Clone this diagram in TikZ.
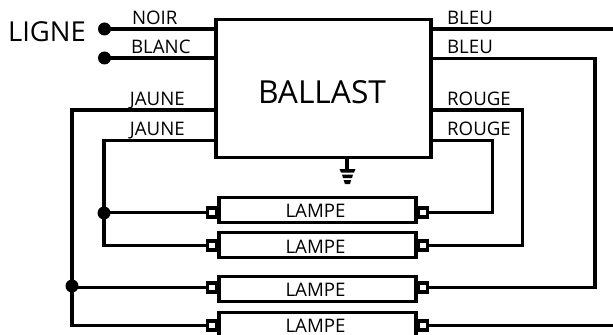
\documentclass[tikz,border=0pt]{standalone}
\usepackage{fontspec}
\setmainfont{Open Sans}
\tikzset{
  x=0.75pt,y=-0.75pt,
  wire/.style={line width=2.3pt,line cap=butt,line join=miter},
  boxline/.style={draw,line width=2.3pt,fill=white,inner sep=0pt},
  lampbox/.style={boxline,minimum width=147.75pt,minimum height=18.75pt},
  capbox/.style={draw,line width=2.3pt,fill=white,minimum width=6.75pt,minimum height=6.75pt,inner sep=0pt},
  dotnode/.style={circle,fill=black,minimum size=9.75pt,inner sep=0pt},
  lab/.style={font=\fontsize{14pt}{16pt}\selectfont,inner sep=0pt,anchor=base},
}
\begin{document}
\begin{tikzpicture}
\useasboundingbox (0,0) rectangle (613,335);
\clip (0,0) rectangle (613,335);
% ballast
\node[boxline,minimum width=161.25pt,minimum height=103.5pt] (ballast) at (323.5,88.5) {};
\node[font=\fontsize{23.8pt}{26pt}\selectfont,inner sep=0pt,anchor=base] (ballasttext) at (322,103) {BALLAST};
% lamps
\node[lampbox] (l1) at (317.5,210.2) {};
\node[lampbox] (l2) at (317.5,245.2) {};
\node[lampbox] (l3) at (317.5,289.2) {};
\node[lampbox] (l4) at (317.5,325.2) {};
\node[lab] (lt1) at (315.5,217.5) {LAMPE};
\node[lab] (lt2) at (315.5,253) {LAMPE};
\node[lab] (lt3) at (315.5,296.5) {LAMPE};
\node[lab] (lt4) at (315.5,332) {LAMPE};
% caps
\foreach \n/\y in {1/212.5,2/245.5,3/287.5,4/325.5}{
  \node[capbox] (cl\n) at (212,\y) {};
  \node[capbox] (cr\n) at (423,\y) {};
}
% junctions and free ends
\node[dotnode] (ln) at (104.5,29) {};
\node[dotnode] (lb) at (104.5,58) {};
\node[dotnode] (jy) at (104,213) {};
\node[dotnode] (jx) at (72,286) {};
\coordinate (endtop) at (613,29);
\coordinate (endb) at (613,325.5);
\coordinate (g) at (347,169);
% wires
\draw[wire] (ln.center) -- (ln.center -| ballast.west);
\draw[wire] (lb.center) -- (lb.center -| ballast.west);
\draw[wire] (216,110) -| (jx.center) |- (cl4.west);
\draw[wire] (jx.center |- cl3.west) -- (cl3.west);
\draw[wire] (216,140.5) -| (jy.center) |- (cl2.west);
\draw[wire] (jy.center |- cl1.west) -- (cl1.west);
\draw[wire] (431,29) -- (endtop);
\draw[wire] (431,58.5) -| (595,287.5) -- (cr3.east);
\draw[wire] (431,110) -| (522.5,245.5) -- (cr2.east);
\draw[wire] (431,140.5) -| (492.5,212.5) -- (cr1.east);
\draw[wire] (cr4.east) -- (endb);
% ground
\draw[wire] (ballast.south -| g) -- (g);
\fill (339.5,169) -- (355.5,169) -- (354,172.5) -- (341,172.5) -- cycle;
\fill (342,174.5) -- (353,174.5) -- (352,178) -- (343,178) -- cycle;
\fill (343.5,180) -- (351,180) -- (350,184) -- (345,184) -- cycle;
% labels
\node[font=\fontsize{20.6pt}{23pt}\selectfont,inner sep=0pt,anchor=base] (ligne) at (47,41.5) {LIGNE};
\node[lab] (t1) at (154.7,25) {NOIR};
\node[lab] (t2) at (160.8,54) {BLANC};
\node[lab] (t3) at (157.3,105) {JAUNE};
\node[lab] (t4) at (157.3,135) {JAUNE};
\node[lab] (t5) at (470,25) {BLEU};
\node[lab] (t6) at (470,54) {BLEU};
\node[lab] (t7) at (479,105) {ROUGE};
\node[lab] (t8) at (479,135.5) {ROUGE};
\end{tikzpicture}
\end{document}
